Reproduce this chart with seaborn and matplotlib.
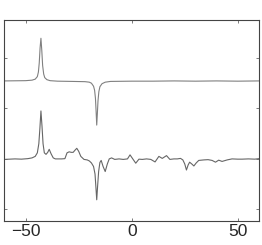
import matplotlib
matplotlib.use("Agg")
import matplotlib.pyplot as plt
import seaborn as sns
import pandas as pd

# Upper trace
upper_x = [-60, -50, -47, -45.5, -44.5, -44, -43.6, -43.2, -42.8, -42.4, -42.0, -41.5, -41, -40, -38.5,
           -35, -28, -22, -20, -19, -18, -17.5, -17.1, -16.8, -16.5, -16.2, -15.9, -15.5, -15, -14, -12.5,
           -10, 0, 10, 20, 30, 40, 50, 60]
upper_y = [2.545, 2.55, 2.56, 2.58, 2.63, 2.72, 2.9, 3.2, 3.39, 3.15, 2.85, 2.68, 2.61, 2.57, 2.55,
           2.54, 2.535, 2.53, 2.52, 2.5, 2.44, 2.36, 2.2, 1.95, 1.67, 1.9, 2.15, 2.33, 2.43, 2.49, 2.52,
           2.535, 2.54, 2.54, 2.545, 2.54, 2.545, 2.54, 2.545]

# Lower trace
lower_x = [-60, -55, -52, -49, -47, -45.5, -44.5, -43.8, -43.3, -42.8, -42.3, -41.8, -41.2, -40.4, -39.6,
           -38.9, -38.0, -37.0, -36.0, -33, -31.5, -30.5, -29.5, -28.5, -27.6, -26.8, -25.9, -25.0, -24.0,
           -22.5, -21, -20, -19, -18, -17.3, -16.9, -16.5, -16.1, -15.6, -15.0, -14.4, -13.5, -12.5,
           -11.5, -10.6, -9.5, -8, -6, -4, -2, -0.8, 0.5, 1.9, 3.4, 5, 7, 9, 11, 12.8, 14.4, 16.4, 18,
           19.9, 21.5, 23, 24.1, 25.0, 25.8, 26.6, 27.3, 28.3, 29.3, 30.4, 31.6, 34, 36, 37.9, 39.5, 41,
           42.6, 45, 47.3, 50, 52, 55, 58, 60]
lower_y = [0.99, 1.0, 0.995, 1.005, 1.02, 1.05, 1.12, 1.3, 1.6, 1.95, 1.65, 1.3, 1.12, 1.09, 1.13,
           1.19, 1.1, 1.02, 1.0, 1.0, 1.005, 1.12, 1.14, 1.13, 1.13, 1.17, 1.21, 1.15, 1.05,
           0.99, 0.98, 0.96, 0.92, 0.85, 0.7, 0.45, 0.19, 0.45, 0.75, 0.93, 0.97, 0.85, 0.75,
           0.9, 1.0, 1.02, 0.99, 1.0, 0.99, 1.0, 1.08, 1.0, 0.915, 0.995, 0.99, 1.0, 0.99, 0.94, 1.05, 1.01, 1.065, 0.99,
           1.0, 1.0, 1.01, 0.98, 0.9, 0.78, 0.88, 0.935, 0.9, 0.86, 0.92, 0.97, 0.98, 0.985, 0.97, 0.935, 0.975,
           0.95, 0.98, 1.0, 0.995, 0.995, 1.0, 0.995, 1.005]

xticks = [-50, 0, 50]
yticks = [0, 1, 2, 3]

df = pd.concat([
    pd.DataFrame({"x": upper_x, "y": upper_y, "trace": "upper"}),
    pd.DataFrame({"x": lower_x, "y": lower_y, "trace": "lower"}),
])

sns.set_style("white")
plt.rcParams["font.family"] = ["Liberation Sans", "DejaVu Sans"]

fig = plt.figure(figsize=(2.62, 2.45), dpi=100)
ax = fig.add_axes([0.017, 0.098, 0.9715, 0.82])

sns.lineplot(data=df, x="x", y="y", hue="trace", palette={"upper": "#808080", "lower": "#666666"},
             legend=False, linewidth=0.8, ax=ax, sort=False, estimator=None)

ax.set_xlim(-60, 60)
ax.set_ylim(-0.23, 3.75)
ax.set_xticks(xticks)
ax.set_xticklabels(["\u221250", "0", "50"], fontsize=12.5)
ax.set_yticks(yticks)
ax.set_yticklabels([])
ax.set_xlabel("")
ax.set_ylabel("")
ax.tick_params(direction="in", length=2.5, width=0.6, color="#666666", top=True, right=True,
               bottom=True, left=True, pad=2)
for s in ax.spines.values():
    s.set_visible(True)
    s.set_color("#444444")
    s.set_linewidth(0.8)

fig.savefig("out.png", dpi=100)
